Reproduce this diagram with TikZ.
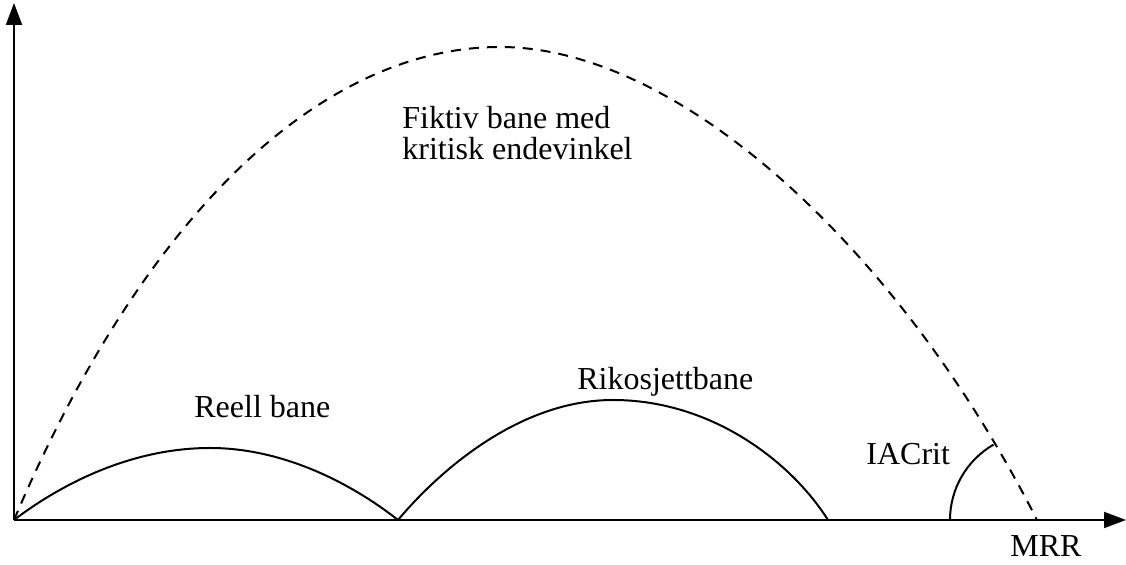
\documentclass[tikz,border=0pt]{standalone}
\usepackage{fontspec}
\setmainfont{Liberation Serif}
\usetikzlibrary{arrows.meta}

\begin{document}
\begin{tikzpicture}[
  x=0.5pt, y=-0.5pt,
  axis/.style={line width=1pt, -{Triangle[length=11pt, width=8pt]}},
  path/.style={line width=1pt},
  fictive/.style={line width=1pt, dash pattern=on 5pt off 4pt},
  label/.style={inner sep=0pt, anchor=base west, font=\fontsize{16}{15.5}\selectfont}
]
  \useasboundingbox (0,0) rectangle (1126,565);

  \coordinate (O)    at (14, 520);
  \coordinate (ytop) at (14, 3);
  \coordinate (xend) at (1126, 520);
  \coordinate (hit1) at (398, 520);
  \coordinate (hit2) at (828, 520);
  \coordinate (mrr)  at (1037, 520);

  % axes
  \draw[axis] (O) -- (ytop);
  \draw[axis] (O) -- (xend);

  % fictive trajectory
  \draw[fictive] (O) .. controls (150, 200) and (330, 47) .. (500, 47)
                     .. controls (680, 47) and (900, 250) .. (mrr);

  % real trajectory and ricochet
  \draw[path] (O) .. controls (60, 485) and (130, 448) .. (210, 448)
                  .. controls (290, 448) and (360, 490) .. (hit1);
  \draw[path] (hit1) .. controls (440, 470) and (520, 400) .. (613, 400)
                     .. controls (710, 400) and (790, 460) .. (hit2);

  % critical angle
  \draw[path] (950, 520) arc[start angle=180, end angle=240, radius=87];

  \node[label, anchor=north west, align=left] (fiktiv) at (402, 106)
    {Fiktiv bane med\\kritisk endevinkel};
  \node[label] (reell)  at (194, 418)  {Reell bane};
  \node[label] (rikos)  at (577, 390)  {Rikosjettbane};
  \node[label] (iacrit) at (866, 465)  {IACrit};
  \node[label] (mrrlbl) at (1010, 557) {MRR};
\end{tikzpicture}
\end{document}
